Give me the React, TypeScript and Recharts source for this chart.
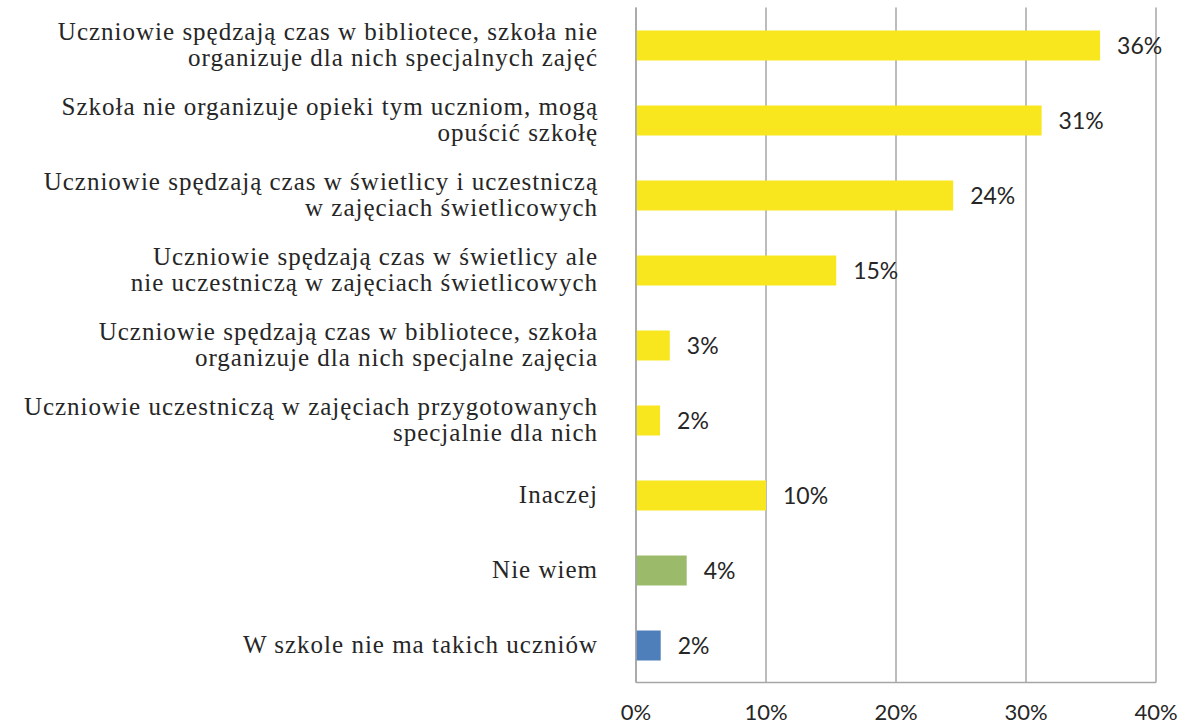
import React from "react"
import { BarChart, Bar, XAxis, YAxis, CartesianGrid, Cell, LabelList } from "recharts"

const categories = [
  "Uczniowie spędzają czas w bibliotece, szkoła nie\norganizuje dla nich specjalnych zajęć",
  "Szkoła nie organizuje opieki tym uczniom, mogą\nopuścić szkołę",
  "Uczniowie spędzają czas w świetlicy i uczestniczą\nw zajęciach świetlicowych",
  "Uczniowie spędzają czas w świetlicy ale\nnie uczestniczą w zajęciach świetlicowych",
  "Uczniowie spędzają czas w bibliotece, szkoła\norganizuje dla nich specjalne zajęcia",
  "Uczniowie uczestniczą w zajęciach przygotowanych\nspecjalnie dla nich",
  "Inaczej",
  "Nie wiem",
  "W szkole nie ma takich uczniów",
]

// percent shares
const values = [35.7, 31.2, 24.4, 15.4, 2.6, 1.85, 10.0, 3.9, 1.9]

const barColors = [
  "#F8E71E", "#F8E71E", "#F8E71E", "#F8E71E", "#F8E71E",
  "#F8E71E", "#F8E71E", "#9BBB6B", "#4F7FBB",
]

const xTicks = [0, 10, 20, 30, 40]

const chartData = categories.map((name, i) => ({ name, value: values[i] }))

const CategoryTick = (props: any) => {
  const { x, y, payload } = props
  const lines: string[] = String(payload.value).split("\n")
  const lineHeight = 26
  const startY = y - ((lines.length - 1) * lineHeight) / 2
  return (
    <text
      x={x}
      y={startY}
      textAnchor="end"
      fill="#262626"
      fontFamily="'Liberation Serif', serif"
      fontSize={25}
      letterSpacing={1}
    >
      {lines.map((line, i) => (
        <tspan key={i} x={x} y={startY + i * lineHeight} dy="0.33em">
          {line}
        </tspan>
      ))}
    </text>
  )
}

export default function App() {
  return (
    <div style={{ position: "absolute", left: 0, top: 0, background: "#fff" }}>
      <BarChart
        width={1182}
        height={727}
        data={chartData}
        layout="vertical"
        margin={{ top: 7.5, right: 26, bottom: 0, left: 0 }}
        barCategoryGap={0}
      >
        <CartesianGrid horizontal={false} stroke="#A6A6A6" strokeWidth={1.5} />
        <XAxis
          type="number"
          domain={[0, 40]}
          ticks={xTicks}
          tickFormatter={(v) => `${v}%`}
          height={44.5}
          axisLine={{ stroke: "#A6A6A6", strokeWidth: 1.5 }}
          tickLine={false}
          tickSize={0}
          tickMargin={22}
          tick={{ fill: "#262626", fontSize: 22, fontFamily: "Lato, sans-serif" }}
          interval={0}
        />
        <YAxis
          type="category"
          dataKey="name"
          width={636}
          axisLine={{ stroke: "#A6A6A6", strokeWidth: 1.5 }}
          tickLine={false}
          tickSize={0}
          tickMargin={38}
          tick={<CategoryTick />}
          interval={0}
        />
        <Bar dataKey="value" barSize={30} isAnimationActive={false}>
          {chartData.map((_, i) => (
            <Cell key={i} fill={barColors[i]} />
          ))}
          <LabelList
            dataKey="value"
            position="right"
            offset={17}
            formatter={(v: any) => `${Math.round(Number(v))}%`}
            style={{ fill: "#262626", fontSize: 23, fontFamily: "Lato, sans-serif" }}
          />
        </Bar>
      </BarChart>
    </div>
  )
}
